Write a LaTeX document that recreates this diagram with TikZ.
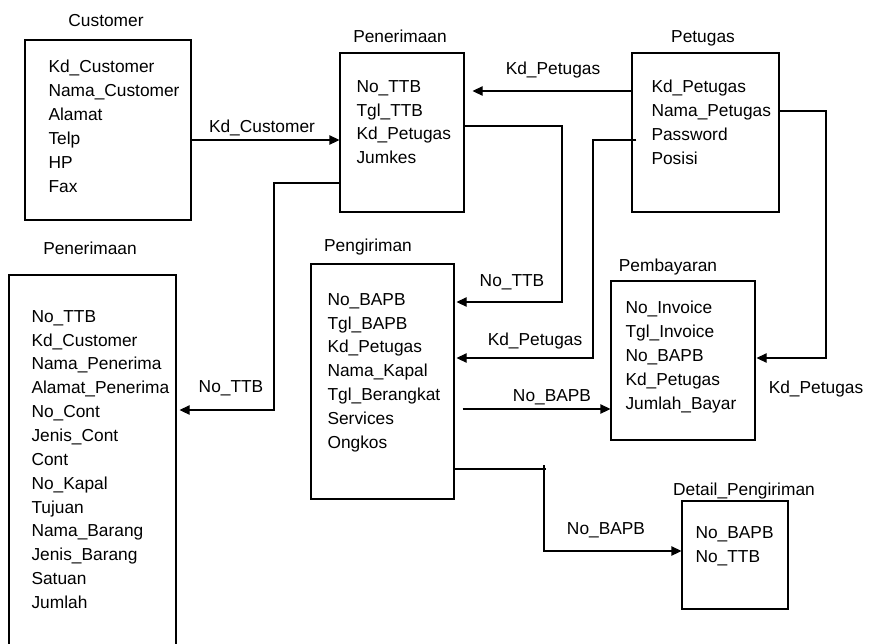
\documentclass[tikz,border=0pt]{standalone}
\usepackage{fontspec}
\setmainfont{Liberation Sans}
\usetikzlibrary{arrows.meta,fit}

\begin{document}
\begin{tikzpicture}[x=0.75pt,y=-0.75pt,line width=0.8pt,
  entity/.style={draw, inner sep=0pt, fit={#1}},
  fields/.style={anchor=north west, inner sep=0pt, align=left,
    font=\fontsize{13pt}{17.9pt}\selectfont},
  title/.style={anchor=base, inner sep=0pt, font=\fontsize{13pt}{15pt}\selectfont},
  lbl/.style={anchor=base, inner sep=0pt, font=\fontsize{13pt}{15pt}\selectfont},
  link/.style={-{Triangle[length=7.5pt,width=7pt]}}]

\useasboundingbox (0,0) rectangle (870,643);
\clip (0,0) rectangle (870,643);

% ---------- tables ----------
\node[entity={(25,40) (191,220)}] (cust) {};
\node[title] (custT) at (106,26.3) {Customer};
\node[fields] (custF) at (48,59.7) {Kd\_Customer\\Nama\_Customer\\Alamat\\Telp\\HP\\Fax};

\node[entity={(340,53) (464,212)}] (terima) {};
\node[title] (terimaT) at (400,42.3) {Penerimaan};
\node[fields] (terimaF) at (356,79.7) {No\_TTB\\Tgl\_TTB\\Kd\_Petugas\\Jumkes};

\node[entity={(632,53) (779,212)}] (pet) {};
\node[title] (petT) at (703,42.3) {Petugas};
\node[fields] (petF) at (651,79.7) {Kd\_Petugas\\Nama\_Petugas\\Password\\Posisi};

\node[entity={(9,275) (176,670)}] (detil) {};
\node[title] (detilT) at (90,254.3) {Penerimaan};
\node[fields] (detilF) at (31,309.7) {No\_TTB\\Kd\_Customer\\Nama\_Penerima\\Alamat\_Penerima\\No\_Cont\\Jenis\_Cont\\Cont\\No\_Kapal\\Tujuan\\Nama\_Barang\\Jenis\_Barang\\Satuan\\Jumlah};

\node[entity={(311,264) (454,499)}] (kirim) {};
\node[title] (kirimT) at (368,251.3) {Pengiriman};
\node[fields] (kirimF) at (327,292.7) {No\_BAPB\\Tgl\_BAPB\\Kd\_Petugas\\Nama\_Kapal\\Tgl\_Berangkat\\Services\\Ongkos};

\node[entity={(611,281) (755,440)}] (bayar) {};
\node[title] (bayarT) at (668,271.3) {Pembayaran};
\node[fields] (bayarF) at (625,300.7) {No\_Invoice\\Tgl\_Invoice\\No\_BAPB\\Kd\_Petugas\\Jumlah\_Bayar};

\node[entity={(682,501) (788,609)}] (dkirim) {};
\node[title] (dkirimT) at (744,495.3) {Detail\_Pengiriman};
\node[fields] (dkirimF) at (695,525.7) {No\_BAPB\\No\_TTB};

% ---------- relations ----------
\draw[link] (cust.east |- 0,140) -- (terima.west |- 0,140);
\node[lbl] (l1) at (262,132.3) {Kd\_Customer};

\draw[link] (pet.west |- 0,91) -- ([xshift=6pt]terima.east |- 0,91);
\node[lbl] (l2) at (553,74.3) {Kd\_Petugas};

\draw[link] (terima.east |- 0,126) -- (562,126) -- (562,302) -- ([xshift=1.5pt]kirim.east |- 0,302);
\node[lbl] (l3) at (512,286.3) {No\_TTB};

\draw[link] ([xshift=3.75pt]pet.west |- 0,140) -- (593,140) -- (593,358) -- ([xshift=1.5pt]kirim.east |- 0,358);
\node[lbl] (l4) at (535,345.3) {Kd\_Petugas};

\draw[link] (pet.east |- 0,111) -- (826,111) -- (826,358) -- ([xshift=0.75pt]bayar.east |- 0,358);
\node[lbl] (l5) at (816,393.3) {Kd\_Petugas};

\draw[link] ([xshift=6pt]kirim.east |- 0,409) -- (bayar.west |- 0,409);
\node[lbl] (l6) at (552,401.3) {No\_BAPB};

\draw (kirim.east |- 0,469) -- (546,469);
\draw[link] (544,465) -- (544,551) -- (dkirim.west |- 0,551);
\node[lbl] (l7) at (606,534.3) {No\_BAPB};

\draw[link] (terima.west |- 0,183) -- (274,183) -- (274,410) -- ([xshift=2.25pt]detil.east |- 0,410);
\node[lbl] (l8) at (231,392.3) {No\_TTB};
\end{tikzpicture}
\end{document}
